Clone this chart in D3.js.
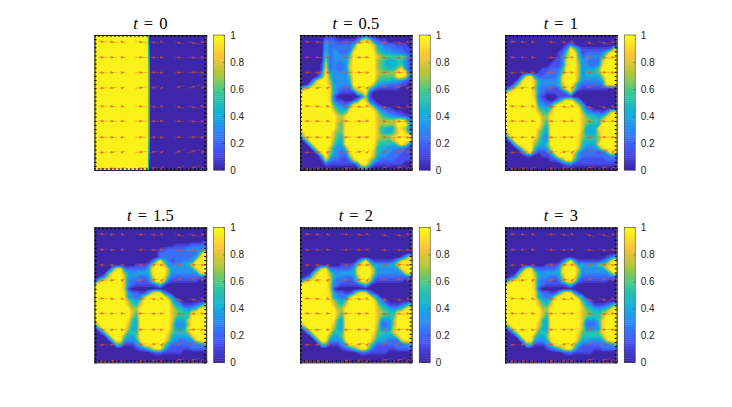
<!DOCTYPE html>
<html>
<head>
<meta charset="utf-8">
<script src="https://cdn.jsdelivr.net/npm/d3@7"></script>
<style>
  body { margin: 0; background: #fff; }
  svg { display: block; }
</style>
</head>
<body>
<div id="grafico"></div>
<script>
// Panel titles, in reading order
const times = ["0", "0.5", "1", "1.5", "2", "3"];
const colorbarTicks = [0, 0.2, 0.4, 0.6, 0.8, 1];

// Concentration, one char per cell: 0-9 = tenths, a = 1
const gridT0 = [
  "aaaaa aaaaa aaaaa aaaaa aaaaa aaaaa aaaaa a5000 00000 00000 00000 00000 00000 00000 00000",
  "aaaaa aaaaa aaaaa aaaaa aaaaa aaaaa aaaaa a5000 00000 00000 00000 00000 00000 00000 00000"
];
const gridT05 = [
  "0000 0011 1000 0012 4210 0000 0000",
  "0000 0032 2111 1138 a832 1100 0000",
  "0000 0042 2222 24aa aa84 3222 1110",
  "0000 0042 3222 27aa aa95 4332 2211",
  "0000 0052 3322 4aaa aaa6 5443 3221",
  "0000 0062 3333 6aaa aaa8 7666 6752",
  "0000 0072 3333 7aaa aaa7 6544 5531",
  "0000 0182 3223 8aaa aaa7 6444 5632",
  "0000 0192 3223 8aaa aaa7 6555 7941",
  "0000 03a4 3333 7aaa aaa8 7777 aaa3",
  "0000 15a6 3333 6aaa aaa7 6666 aa82",
  "0004 9aa7 3333 5aaa aaa6 5554 4321",
  "0038 aaa8 4333 3aaa aa74 3322 2110",
  "48aa aaa9 4322 27aa a631 1111 1000",
  "aaaa aaa9 4211 1168 a200 0000 0000",
  "aaaa aaa9 2000 0002 7100 0000 0000",
  "aaaa aaa9 3110 014a 9210 0000 0000",
  "aaaa aaaa 5322 49aa a731 0000 0000",
  "aaaa aaaa 7543 8aaa aa84 2110 0000",
  "aaaa aaaa 9656 aaaa aaa7 4322 1100",
  "aaaa aaaa a87a aaaa aaa8 6543 3221",
  "aaaa aaaa a879 aaaa aaa8 7777 9a73",
  "aaaa aaaa a76a aaaa aaa8 7777 aaa4",
  "aaaa aaaa a76a aaaa aaa8 5545 9972",
  "8aaa aaaa 866a aaaa aaa8 5446 8a84",
  "5aaa aaaa 855a aaaa aaa8 7778 aaaa",
  "05aa aaaa 754a aaaa aaa7 6668 aaaa",
  "005a aaaa 644a aaaa aaa6 5554 7a83",
  "0005 aaa8 4336 aaaa aa95 4433 3221",
  "0000 5aa7 4323 9aaa aa85 4332 2211",
  "0000 05a6 3322 7aaa aa84 3322 2111",
  "0000 0183 2211 38aa a853 2222 1111",
  "0000 0021 1111 114a a621 1111 1100",
  "0000 0000 0000 0003 4100 0000 0000"
];
const gridT1 = [
  "0000 0000 0000 0000 0000 0000 0000",
  "0000 0000 0000 0000 0000 0000 0000",
  "0000 0000 0000 0001 3100 0000 0000",
  "0000 0000 0000 0013 a631 1111 1128",
  "0000 0000 0000 0126 aa41 2222 36aa",
  "0000 0000 0000 0137 aa52 3333 59aa",
  "0000 0000 0000 1139 aa63 3222 8aaa",
  "0000 0000 0001 1139 aa73 3223 9aaa",
  "0000 0000 0112 225a aa73 4446 aaaa",
  "0000 0000 1122 236a aa73 5556 aaaa",
  "0000 49a4 2222 249a aa73 4444 7aaa",
  "0003 9aa8 4333 349a aa63 3333 5aaa",
  "0038 aaa8 4333 348a a732 2222 39aa",
  "148a aaa7 3222 126a a621 1111 1100",
  "8aaa aaa8 3211 1113 8100 0000 0000",
  "aaaa aaa8 2100 0111 1000 0000 0000",
  "aaaa aaa9 3210 137a a630 0000 0000",
  "aaaa aaaa 4323 7aaa aa73 0000 0000",
  "aaaa aaaa 6546 aaaa aaa5 2100 0000",
  "aaaa aaaa 8658 aaaa aaa7 4322 138a",
  "aaaa aaaa a77a aaaa aaa8 6554 58aa",
  "aaaa aaaa a76a aaaa aaa8 7655 8aaa",
  "aaaa aaaa a75a aaaa aaa8 6554 aaaa",
  "aaaa aaaa 964a aaaa aaa8 4449 aaaa",
  "8aaa aaaa 754a aaaa aaa7 4448 aaaa",
  "5aaa aaaa 743a aaaa aa97 5557 aaaa",
  "05aa aaa8 643a aaaa aa96 5557 aaaa",
  "005a aaa7 545a aaaa aa95 4449 aaaa",
  "0003 8aa5 3348 aaaa aa84 3335 9aaa",
  "0000 38a3 1125 aaaa a842 2221 25aa",
  "0000 0110 0112 5aaa a732 2222 2233",
  "0000 0000 0001 136a a521 1111 1222",
  "0000 0000 0000 0012 3111 1111 1111",
  "0000 0000 0000 0000 0000 0000 0000"
];
const gridT15 = [
  "0000 0000 0000 0000 0000 0000 0000",
  "0000 0000 0000 0000 0000 0000 0000",
  "0000 0000 0000 0000 0000 0000 0000",
  "0000 0000 0000 0000 0000 0000 0001",
  "0000 0000 0000 0000 0000 1111 2222",
  "0000 0000 0000 0000 1122 2223 3334",
  "0000 0000 0000 0000 2222 2222 225a",
  "0000 0000 0000 0000 2222 2222 349a",
  "0000 0000 0000 0026 a531 2233 49aa",
  "0000 0000 0011 127a a833 3445 8aaa",
  "0000 49a3 2222 249a aa73 3333 48aa",
  "0005 9aa7 4344 449a aa73 3333 338a",
  "0138 aaa8 4332 237a a952 2222 2222",
  "38aa aaa8 3222 126a a821 1111 1100",
  "aaaa aaa8 3211 1112 5100 0000 0000",
  "aaaa aaa8 1000 0000 0000 0000 0000",
  "aaaa aaa9 4221 148a 9310 0000 0000",
  "aaaa aaa9 4323 7aaa aa63 0000 0000",
  "aaaa aaaa 7546 aaaa aaa5 3100 0000",
  "aaaa aaaa 8658 aaaa aaa7 4311 1236",
  "aaaa aaaa a77a aaaa aaa8 6543 459a",
  "aaaa aaaa a86a aaaa aaa8 7655 9aaa",
  "aaaa aaaa a75a aaaa aaa8 6555 aaaa",
  "aaaa aaaa 954a aaaa aaa8 4448 aaaa",
  "7aaa aaaa 854a aaaa aaa7 3337 aaaa",
  "16aa aaaa 744a aaaa aaa7 4449 aaaa",
  "015a aaa9 555a aaaa aa96 5557 aaaa",
  "0005 aaa6 446a aaaa aa85 4444 8aaa",
  "0000 5aa4 3349 aaaa aa74 3223 38aa",
  "0000 0551 1135 aaaa a742 2222 2235",
  "0000 0000 0012 358a a521 1111 2222",
  "0000 0000 0000 0012 2111 1100 0000",
  "0000 0000 0000 0000 0000 0000 0000",
  "0000 0000 0000 0000 0000 0000 0000"
];
const gridT2 = [
  "0000 0000 0000 0000 0000 0000 0000",
  "0000 0000 0000 0000 0000 0000 0000",
  "0000 0000 0000 0000 0000 0000 0000",
  "0000 0000 0000 0000 0000 0000 0000",
  "0000 0000 0000 0000 0000 0000 0000",
  "0000 0000 0000 0000 0000 0000 0000",
  "0000 0000 0000 0000 0000 0000 0001",
  "0000 0000 0000 0000 0000 0000 0148",
  "0000 0000 0000 0026 a411 1112 59aa",
  "0000 0000 0011 127a a844 4445 8aaa",
  "0000 49a3 2222 249a aa73 3333 49aa",
  "0005 9aa7 4344 449a aa73 3333 338a",
  "0138 aaa8 4332 237a a952 2222 2222",
  "38aa aaa8 3222 126a a821 1111 1100",
  "aaaa aaa8 3211 1112 5100 0000 0000",
  "aaaa aaa8 1000 0000 0000 0000 0000",
  "aaaa aaa9 4221 148a 9310 0000 0000",
  "aaaa aaa9 4323 7aaa aa63 0000 0000",
  "aaaa aaaa 7546 aaaa aaa5 3100 0000",
  "aaaa aaaa 8658 aaaa aaa7 4311 1236",
  "aaaa aaaa a77a aaaa aaa8 6543 459a",
  "aaaa aaaa a86a aaaa aaa8 7655 9aaa",
  "aaaa aaaa a75a aaaa aaa8 6555 aaaa",
  "aaaa aaaa 954a aaaa aaa8 3337 aaaa",
  "7aaa aaaa 854a aaaa aaa7 2237 aaaa",
  "16aa aaaa 744a aaaa aaa7 3338 aaaa",
  "015a aaa9 555a aaaa aa96 5558 aaaa",
  "0005 aaa6 446a aaaa aa85 5444 8aaa",
  "0000 5aa4 3349 aaaa aa74 4322 28aa",
  "0000 0551 1135 aaaa a742 2222 2235",
  "0000 0000 0012 358a a521 1111 2222",
  "0000 0000 0000 0012 2111 1100 0000",
  "0000 0000 0000 0000 0000 0000 0000",
  "0000 0000 0000 0000 0000 0000 0000"
];
const gridT3 = [
  "0000 0000 0000 0000 0000 0000 0000",
  "0000 0000 0000 0000 0000 0000 0000",
  "0000 0000 0000 0000 0000 0000 0000",
  "0000 0000 0000 0000 0000 0000 0000",
  "0000 0000 0000 0000 0000 0000 0000",
  "0000 0000 0000 0000 0000 0000 0000",
  "0000 0000 0000 0000 0000 0000 0000",
  "0000 0000 0000 0000 0000 0000 0125",
  "0000 0000 0000 0026 a411 1111 248a",
  "0000 0000 0011 127a a844 4446 78aa",
  "0000 49a3 2222 249a aa73 3333 37aa",
  "0005 9aa7 4344 449a aa73 3333 336a",
  "0138 aaa8 4332 237a a952 2222 2222",
  "38aa aaa8 3222 126a a821 1111 1100",
  "aaaa aaa8 3211 1112 5100 0000 0000",
  "aaaa aaa8 1000 0000 0000 0000 0000",
  "aaaa aaa9 4221 148a 9310 0000 0000",
  "aaaa aaa9 4323 7aaa aa63 0000 0000",
  "aaaa aaaa 7546 aaaa aaa5 3100 0000",
  "aaaa aaaa 8658 aaaa aaa7 4311 1236",
  "aaaa aaaa a77a aaaa aaa8 6543 458a",
  "aaaa aaaa a86a aaaa aaa8 7655 78aa",
  "aaaa aaaa a75a aaaa aaa8 6555 7aaa",
  "aaaa aaaa 954a aaaa aaa8 3335 9aaa",
  "7aaa aaaa 854a aaaa aaa7 2224 9aaa",
  "16aa aaaa 744a aaaa aaa7 3334 9aaa",
  "015a aaa9 555a aaaa aa96 5556 9aaa",
  "0005 aaa6 446a aaaa aa85 5555 7aaa",
  "0000 5aa4 3349 aaaa aa74 4333 48aa",
  "0000 0551 1135 aaaa a742 2222 2236",
  "0000 0000 0012 358a a521 1111 2222",
  "0000 0000 0000 0012 2111 1100 0000",
  "0000 0000 0000 0000 0000 0000 0000",
  "0000 0000 0000 0000 0000 0000 0000"
];
const grids = [gridT0, gridT05, gridT1, gridT15, gridT2, gridT3];

// Velocity field (same in every panel), unit square with y going down
const quiverX = [0.036, 0.125, 0.239, 0.364, 0.49, 0.597, 0.716, 0.833, 0.955];
const quiverU = [0.075, 0.075, 0.036, 0.105, 0.09, 0.024, 0.09, 0.113, 0.036];
const quiverY = [0.049, 0.165, 0.279, 0.395, 0.526, 0.637, 0.758, 0.872, 0.993];
const vDown   = [0.002, 0.007, 0.01, 0.007, 0.012, 0.012, 0.02, 0.02, 0.012];
const vSlight = [0.001, 0.002, 0.002, 0.002, 0.003, 0.003, 0.005, 0.006, 0.004];
const vFlat   = [0, 0, -0.001, -0.001, -0.002, -0.002, -0.002, -0.003, -0.002];
const vUp     = [-0.004, -0.008, -0.012, -0.01, -0.014, -0.018, -0.022, -0.024, -0.02];
const quiverV = [vDown, vSlight, vFlat, vUp, vDown, vSlight, vFlat, vUp, vUp];

// Layout
const largura = 732, altura = 407;
const colunas = [94.5, 300, 505];
const linhas = [35, 227.4];
const plotW = 111.7, plotH = 135;
const cbGap = 7.5, cbW = 11;

const svg = d3.select("#grafico").append("svg")
  .attr("width", largura).attr("height", altura);

const parula = d3.scaleLinear()
  .domain(d3.range(8).map(i => i / 7))
  .range(["#3e26a8", "#4752f4", "#2d87f7", "#12b1d6", "#37c897", "#abc739", "#fec338", "#f9fb15"]);

const niveis = d3.range(1, 20).map(i => i / 20);

function desenhaPainel(i) {
  const left = colunas[i % 3];
  const top = linhas[Math.floor(i / 3)];
  const x = d3.scaleLinear().domain([0, 1]).range([left, left + plotW]);
  const y = d3.scaleLinear().domain([0, 1]).range([top, top + plotH]);

  const linhasGrid = grids[i].map(s => s.replace(/ /g, ""));
  const ny = linhasGrid.length, nx = linhasGrid[0].length;
  const values = [];
  linhasGrid.forEach(s => {
    for (const c of s) values.push(parseInt(c, 16) / 10);
  });

  const g = svg.append("g");
  g.append("rect")
    .attr("x", x(0)).attr("y", y(0))
    .attr("width", plotW).attr("height", plotH)
    .attr("fill", parula(0));

  // contourf-like bands
  const path = d3.geoPath(d3.geoTransform({
    point(px, py) { this.stream.point(x(px / nx), y(py / ny)); }
  }));
  g.selectAll("path.band")
    .data(d3.contours().size([nx, ny]).thresholds(niveis)(values))
    .enter().append("path")
    .attr("class", "band")
    .attr("d", path)
    .attr("fill", d => parula(d.value + 0.025));

  // Quiver arrows
  const setas = [];
  quiverY.forEach((qy, r) => {
    quiverX.forEach((qx, c) => {
      setas.push({ x0: x(qx), y0: y(qy), x1: x(qx + quiverU[c]), y1: y(qy + quiverV[r][c]) });
    });
  });
  g.selectAll("path.seta")
    .data(setas)
    .enter().append("path")
    .attr("class", "seta")
    .attr("fill", "#d9552a")
    .attr("fill-opacity", 0.5)
    .attr("stroke", "#d9552a")
    .attr("stroke-opacity", 0.5)
    .attr("stroke-width", 0.7)
    .attr("d", d => {
      const a = Math.atan2(d.y1 - d.y0, d.x1 - d.x0);
      const hx = d.x0 + (d.x1 - d.x0) * 0.62, hy = d.y0 + (d.y1 - d.y0) * 0.62;
      const nxx = -Math.sin(a) * 1.1, nyy = Math.cos(a) * 1.1;
      const bx = hx - Math.cos(a) * 2.6, by = hy - Math.sin(a) * 2.6;
      return `M${d.x0},${d.y0}L${d.x1},${d.y1}M${hx},${hy}L${bx + nxx},${by + nyy}L${bx - nxx},${by - nyy}Z`;
    });

  // Frame with dense inward ticks
  const xTicks = d3.range(0, 29).map(k => k / 28);
  const yTicks = d3.range(0, 34).map(k => k / 33);
  const eixos = [
    [d3.axisTop(x).tickValues(xTicks), `translate(0,${y(0)})`],
    [d3.axisBottom(x).tickValues(xTicks), `translate(0,${y(1)})`],
    [d3.axisLeft(y).tickValues(yTicks), `translate(${x(0)},0)`],
    [d3.axisRight(y).tickValues(yTicks), `translate(${x(1)},0)`]
  ];
  eixos.forEach(([ax, tr]) => {
    const e = g.append("g").attr("transform", tr)
      .call(ax.tickSize(-2).tickSizeOuter(0).tickFormat(""));
    e.select(".domain").attr("stroke", "#262626").attr("stroke-width", 1);
    e.selectAll(".tick line").attr("stroke", "#000").attr("stroke-width", 1.1);
  });

  // Title
  const title = g.append("text")
    .attr("x", left + plotW / 2).attr("y", top - 6.5)
    .attr("text-anchor", "middle")
    .attr("font-family", "'Liberation Serif', serif")
    .attr("font-size", 16.5)
    .attr("fill", "#000")
    .attr("word-spacing", 2);
  title.append("tspan").attr("font-style", "italic").text("t");
  title.append("tspan").text(" = " + times[i]);

  // Colorbar
  const cbX = left + plotW + cbGap;
  const cy = d3.scaleLinear().domain([0, 1]).range([top + plotH, top]);
  const cb = svg.append("g");
  cb.selectAll("rect")
    .data(d3.range(64))
    .enter().append("rect")
    .attr("x", cbX)
    .attr("y", d => cy((d + 1) / 64))
    .attr("width", cbW)
    .attr("height", plotH / 64 + 0.4)
    .attr("fill", d => parula(d / 63));
  cb.append("rect")
    .attr("x", cbX).attr("y", top).attr("width", cbW).attr("height", plotH)
    .attr("fill", "none").attr("stroke", "#262626").attr("stroke-width", 0.5);
  const axisCb = cb.append("g")
    .attr("transform", `translate(${cbX + cbW},0)`)
    .call(d3.axisRight(cy).tickValues(colorbarTicks).tickSize(-1.5).tickPadding(5.5).tickFormat(d3.format("")));
  axisCb.select(".domain").remove();
  axisCb.selectAll(".tick line").attr("stroke", "#262626").attr("stroke-width", 0.5);
  axisCb.selectAll("text")
    .attr("font-family", "'Liberation Sans', Arial, sans-serif")
    .attr("font-size", 10)
    .attr("fill", "#262626");
}

d3.range(6).forEach(desenhaPainel);
</script>
</body>
</html>
